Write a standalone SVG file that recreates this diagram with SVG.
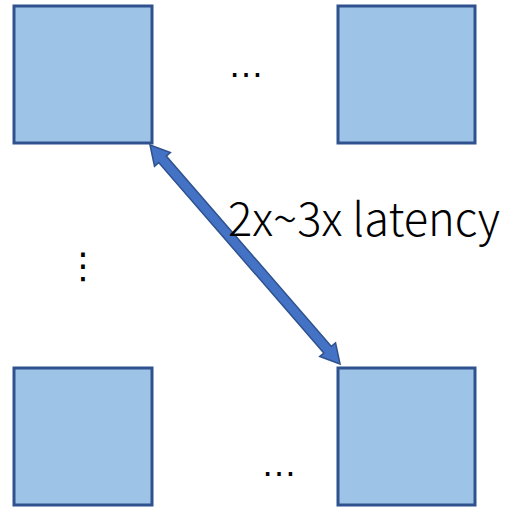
<svg xmlns="http://www.w3.org/2000/svg" width="512" height="508" viewBox="0 0 512 508">
  <style>
    .node rect { fill: #9DC3E6; stroke: #2F528F; stroke-width: 3; }
    .arrow { fill: #4472C4; stroke: #2F528F; stroke-width: 1.5; stroke-linejoin: miter; }
    .label { font-family: "Noto Sans CJK SC", "Liberation Sans", sans-serif; font-weight: 300; fill: #000; }
    .ellipsis { font-family: "Liberation Sans", Arial, sans-serif; fill: #000; }
    .dots { font-family: "DejaVu Sans", "Liberation Sans", sans-serif; fill: #000; }
  </style>
  <rect width="512" height="508" fill="#fff"/>

  <g id="node-top-left" class="node"><rect x="14" y="6" width="138" height="137"/></g>
  <g id="node-top-right" class="node"><rect x="338" y="6" width="137" height="137"/></g>
  <g id="node-bottom-left" class="node"><rect x="14" y="368" width="138" height="137"/></g>
  <g id="node-bottom-right" class="node"><rect x="338" y="368" width="137" height="137"/></g>

  <g id="connectors">
    <g transform="translate(150,145) rotate(49.05)">
      <polygon class="arrow" points="0,0 19,-10.5 19,-5 271,-5 271,-10.5 290,0 271,10.5 271,5 19,5 19,10.5"/>
    </g>
  </g>

  <g id="labels">
    <text class="label" x="228" y="236" font-size="46" textLength="272" lengthAdjust="spacingAndGlyphs">2x~3x latency</text>
    <text class="ellipsis" x="246" y="77" font-size="36" text-anchor="middle">…</text>
    <text class="ellipsis" x="279" y="476" font-size="36" text-anchor="middle">…</text>
    <text class="dots" x="83" y="278" font-size="36" text-anchor="middle">⋮</text>
  </g>
</svg>
